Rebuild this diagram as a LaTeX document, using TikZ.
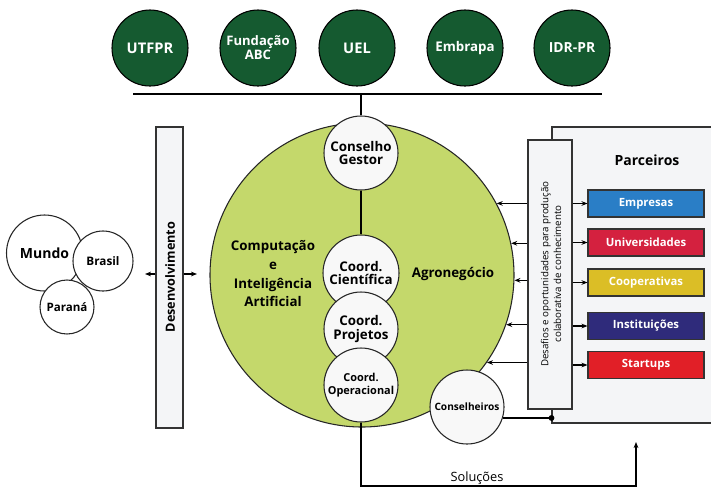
\documentclass[tikz,border=0pt]{standalone}
\usepackage{fontspec}
\setmainfont{Open Sans}
\usetikzlibrary{arrows.meta}
\definecolor{dkgreen}{HTML}{155A30}
\definecolor{ltgreen}{HTML}{C4D86B}
\definecolor{boxgray}{HTML}{F4F5F7}
\definecolor{circwhite}{HTML}{F8F8F8}
\definecolor{cblue}{HTML}{2A7EC6}
\definecolor{cred}{HTML}{D4213F}
\definecolor{cyellow}{HTML}{DBBE26}
\definecolor{cnavy}{HTML}{2F2B7B}
\definecolor{cscarlet}{HTML}{E11F27}
\definecolor{linegray}{HTML}{333333}
\begin{document}
\begin{tikzpicture}[x=0.75pt,y=-0.75pt,
  line width=0.8pt,
  arr/.style={-{Stealth[length=4.5pt,width=3.5pt]}},
  topcirc/.style={circle,draw=black,fill=dkgreen,text=white,minimum size=57pt,inner sep=0pt,align=center,font=\bfseries\fontsize{11}{11}\selectfont},
  wcirc/.style={circle,draw=black!85,fill=circwhite,inner sep=0pt,align=center,font=\bfseries\fontsize{10}{10}\selectfont},
  partbox/.style={rectangle,draw=linegray,text=white,minimum width=87pt,minimum height=20.25pt,inner sep=0pt,font=\bfseries\fontsize{8.5}{10}\selectfont},
  bigtext/.style={align=center,font=\bfseries\fontsize{10}{14}\selectfont}
]
\useasboundingbox (0,0) rectangle (711,487);
\clip (0,0) rectangle (711,487);

% top partner circles
\node[topcirc] (utfpr) at (150,48) {UTFPR};
\node[topcirc,font=\bfseries\fontsize{9.8}{10.5}\selectfont] (fabc) at (258,48) {Fundação\\ABC};
\node[topcirc] (uel) at (357,48) {UEL};
\node[topcirc,font=\bfseries\fontsize{10}{11}\selectfont] (embrapa) at (465,48) {Embrapa};
\node[topcirc,font=\bfseries\fontsize{10.4}{11}\selectfont] (idr) at (572,48) {IDR-PR};
\coordinate (tl) at (133,94);
\coordinate (tr) at (602,94);
\draw (tl) -- (tr);

% Parceiros background box
\node[rectangle,draw=linegray,fill=boxgray,minimum width=133.5pt,minimum height=222pt,inner sep=0pt] (parc) at (641,275) {};
\node[font=\bfseries\fontsize{10.5}{12}\selectfont] (parctitle) at (647,160) {Parceiros};

% Desafios box
\node[rectangle,draw=linegray,fill=boxgray,minimum width=33pt,minimum height=201.75pt,inner sep=0pt] (desaf) at (550,274.5) {};
\node[rotate=90,align=center,font=\fontsize{7.3}{9.6}\selectfont] (desaftext) at (551,274) {Desafios e oportunidades para produção\\colaborativa de conhecimento};

% colored partner boxes
\node[partbox,fill=cblue] (emp) at (646,203.5) {Empresas};
\node[partbox,fill=cred] (univ) at (646,242.5) {Universidades};
\node[partbox,fill=cyellow] (coop) at (646,282.5) {Cooperativas};
\node[partbox,fill=cnavy] (inst) at (646,326) {Instituições};
\node[partbox,fill=cscarlet] (start) at (646,365) {Startups};
\foreach \b in {emp,univ,coop,inst,start}
  \draw[arr] (desaf.east |- \b.west) -- (\b.west);

% big circle
\node[circle,draw=black!85,fill=ltgreen,minimum size=228pt,inner sep=0pt] (big) at (362,275) {};
\node[bigtext] (comp) at (273,274) {Computação\\e\\Inteligência\\Artificial};
\node[bigtext] (agro) at (453,274) {Agronegócio};

% arrows from Desafios to big circle
\foreach \a in {28.7,12.2,-2.6,-19.6,-35.8}
  \draw[arr] (desaf.west |- big.\a) -- (big.\a);

% inner circles
\node[wcirc,minimum size=55.5pt] (gestor) at (361,153) {Conselho\\Gestor};
\node[wcirc,minimum size=57pt] (cient) at (361,273) {Coord.\\Científica};
\node[wcirc,minimum size=55.5pt] (proj) at (361,329) {Coord.\\Projetos};
\node[wcirc,minimum size=55.5pt,font=\bfseries\fontsize{8.2}{9.5}\selectfont] (oper) at (361,385) {Coord.\\Operacional};
\draw (gestor.north |- tl) -- (gestor.north);
\draw (gestor.south) -- (cient.north);

% Conselheiros
\node[wcirc,minimum size=55.5pt,font=\bfseries\fontsize{7.6}{9}\selectfont] (consel) at (467,407) {Conselheiros};
\coordinate (dot) at (parc.west |- consel.-17.3);
\draw (consel.-17.3) -- (dot);
\fill (dot) circle (2.2pt);

% Solucoes
\coordinate (soltip) at (636,442);
\coordinate (solbot) at (361,486);
\draw[arr] (oper.south) -- (solbot) -| (soltip);
\node[font=\fontsize{9.6}{11}\selectfont] (sol) at (477,478) {Soluções};

% Desenvolvimento
\node[rectangle,draw=linegray,fill=boxgray,minimum width=20.25pt,minimum height=225.75pt,inner sep=0pt] (desenv) at (169.5,277.5) {};
\node[rotate=90,font=\bfseries\fontsize{9.5}{11}\selectfont] (desenvtext) at (170,277) {Desenvolvimento};
\coordinate (dl) at (145,274);
\coordinate (dr) at (197,274);
\draw[arr] (desenv.west |- dl) -- (dl);
\draw[arr] (desenv.east |- dr) -- (dr);

% Mundo / Brasil / Parana
\node[wcirc,minimum size=57pt,fill=white,font=\bfseries\fontsize{10.5}{12}\selectfont] (mundo) at (44.5,253) {Mundo};
\node[wcirc,minimum size=45pt,fill=white,font=\bfseries\fontsize{8.8}{10}\selectfont] (brasil) at (103,261) {Brasil};
\node[wcirc,minimum size=40.5pt,fill=white,font=\bfseries\fontsize{8.7}{10}\selectfont] (parana) at (67,307) {Paraná};
\end{tikzpicture}
\end{document}
